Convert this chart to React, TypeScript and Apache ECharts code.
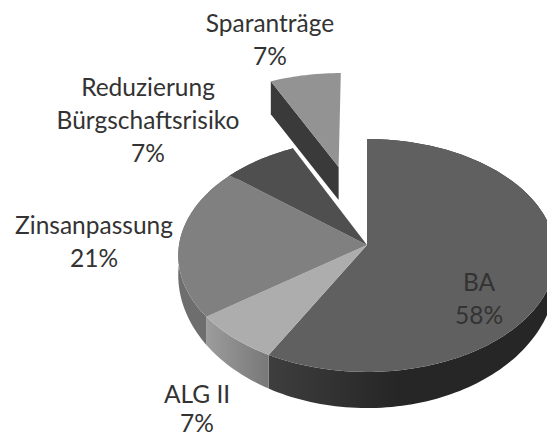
import React, { useEffect, useRef } from "react";
import * as echarts from "echarts";

// Data
const categories = ["BA", "ALG II", "Zinsanpassung", "Reduzierung\nBürgschaftsrisiko", "Sparanträge"];
const shares = [58, 7, 21, 7, 7];
const pulledOut = [0, 0, 0, 0, 0.737];

// Style
const faceColors = ["#606060", "#adadad", "#808080", "#4f4f4f", "#939393"];
const wallStops = [
  ["#3e3e3e", "#262626"],
  ["#9c9c9c", "#787878"],
  ["#6e6e6e", "#6e6e6e"],
  ["#4a4a4a", "#4a4a4a"],
  ["#3a3a3a", "#3a3a3a"],
];
const labelCenters = [
  [479, 281.5],
  [197, 393],
  [94, 224.5],
  [148, 86.5],
  [270, 22.5],
];
const lineGaps = [33, 29.5, 33, 33, 33];
const FONT = "Lato";
const FONT_SIZE = 24.5;
const TEXT_COLOR = "#333333";

// Projection of the pie's discs
const CX = 367;
const RX = 188;
const K = 0.09;
const TOP = { y: 245, b: 115.5 };
const BOTTOM = { y: 263, b: 132 };
const CUT_DEPTH = 33;

const total = shares.reduce((a, b) => a + b, 0);

function sliceAngles(i: number) {
  let sum = 0;
  for (let j = 0; j < i; j++) sum += shares[j];
  const a0 = (sum / total) * Math.PI * 2;
  const a1 = ((sum + shares[i]) / total) * Math.PI * 2;
  return [a0, a1];
}

function project(theta: number, r: number, i: number, plane: { y: number; b: number }) {
  const [a0, a1] = sliceAngles(i);
  const mid = (a0 + a1) / 2;
  const e = pulledOut[i];
  const X = r * Math.sin(theta) + e * Math.sin(mid);
  const Y = -r * Math.cos(theta) - e * Math.cos(mid);
  const d = 1 - K * Y;
  return [CX + (RX * X) / d, plane.y + (plane.b * Y) / d];
}

function arc(i: number, plane: { y: number; b: number }) {
  const [a0, a1] = sliceAngles(i);
  const n = Math.max(8, Math.round((a1 - a0) * 40));
  const pts: number[][] = [];
  for (let s = 0; s <= n; s++) pts.push(project(a0 + ((a1 - a0) * s) / n, 1, i, plane));
  return pts;
}

export default function App() {
  const ref = useRef<HTMLDivElement>(null);
  useEffect(() => {
    document.body.style.margin = "0";
    document.body.style.background = "#ffffff";
    const chart = echarts.init(ref.current!, null, { renderer: "svg" });
    const data = shares.map((v, i) => ({ name: categories[i], value: v }));

    const renderWall = (params: any) => {
      const i = params.dataIndex;
      const [, s1] = wallStops[i];
      const fill = new echarts.graphic.LinearGradient(0, 0, 1, 0, [
        { offset: 0, color: wallStops[i][0] },
        { offset: i === 0 ? 0.45 : 1, color: s1 },
        { offset: 1, color: s1 },
      ]);
      let points: number[][];
      if (pulledOut[i] > 0) {
        const [a0] = sliceAngles(i);
        const corner = project(a0, 1, i, TOP);
        const apex = project(a0, 0, i, TOP);
        points = [corner, apex, [apex[0], apex[1] + CUT_DEPTH], [corner[0], corner[1] + CUT_DEPTH]];
      } else {
        points = [...arc(i, TOP), ...arc(i, BOTTOM).reverse()];
      }
      return { type: "polygon", shape: { points }, style: { fill } };
    };

    const renderFace = (params: any) => {
      const i = params.dataIndex;
      const [a0] = sliceAngles(i);
      const points = [project(a0, 0, i, TOP), ...arc(i, TOP)];
      return { type: "polygon", shape: { points }, style: { fill: faceColors[i] } };
    };

    const renderLabel = (params: any) => {
      const i = params.dataIndex;
      const lines = [...categories[i].split("\n"), `${shares[i]}%`];
      const [x, y] = labelCenters[i];
      return {
        type: "group",
        children: lines.map((line, k) => ({
          type: "text",
          x,
          y: y + k * lineGaps[i],
          style: {
            text: line,
            fill: TEXT_COLOR,
            font: `${FONT_SIZE}px ${FONT}`,
            align: "center",
            verticalAlign: "middle",
          },
        })),
      };
    };

    chart.setOption({
      animation: false,
      backgroundColor: "#ffffff",
      series: [
        { type: "custom", coordinateSystem: "none", z: 1, silent: true, data, renderItem: renderWall },
        { type: "custom", coordinateSystem: "none", z: 2, silent: true, data, renderItem: renderFace },
        { type: "custom", coordinateSystem: "none", z: 3, silent: true, data, renderItem: renderLabel },
      ],
    });
    return () => chart.dispose();
  }, []);
  return <div ref={ref} style={{ width: 547, height: 435, overflow: "hidden" }} />;
}
